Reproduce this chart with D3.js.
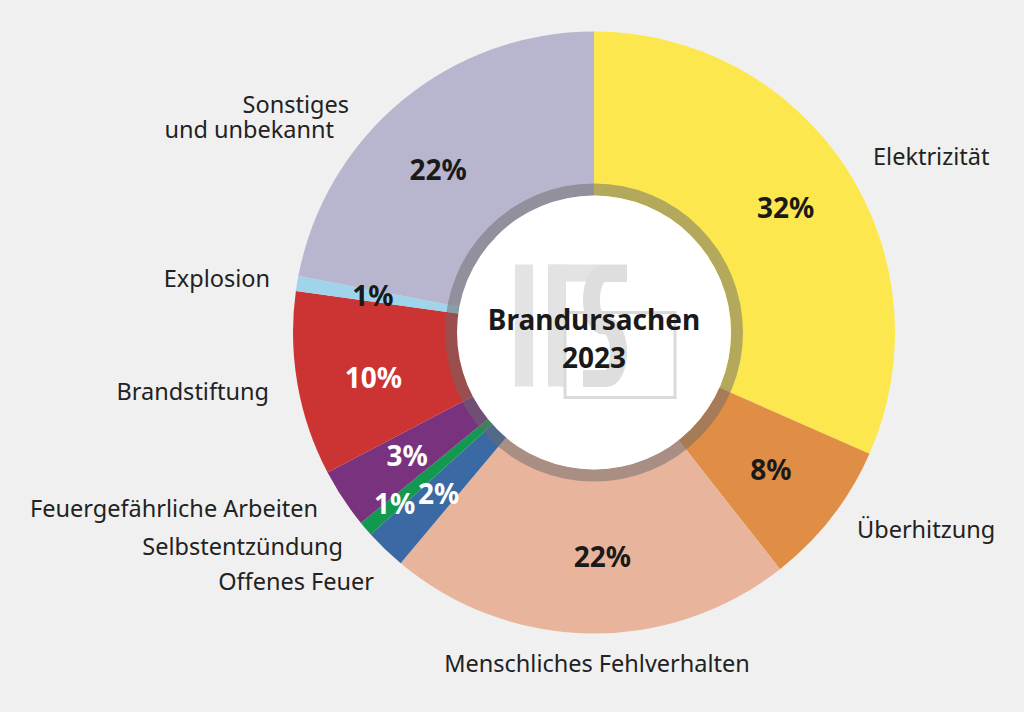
<!DOCTYPE html>
<html>
<head>
<meta charset="utf-8">
<script src="https://cdn.jsdelivr.net/npm/d3@7"></script>
<style>
  html, body { margin: 0; padding: 0; background: #f0f0f0; }
  svg { display: block; }
</style>
</head>
<body>
<svg id="chart" width="1024" height="712"></svg>
<script>
// ---- data ----
const categories = [
  "Elektrizität", "Überhitzung", "Menschliches Fehlverhalten", "Offenes Feuer",
  "Selbstentzündung", "Feuergefährliche Arbeiten", "Brandstiftung", "Explosion",
  "Sonstiges und unbekannt"
];
const values = [31.6, 7.8, 21.7, 2.2, 0.8, 3.2, 9.9, 0.8, 22.0];
const valueLabels = ["32%", "8%", "22%", "2%", "1%", "3%", "10%", "1%", "22%"];
const colors = ["#fde74e", "#e08e45", "#e8b59c", "#3b69a4", "#12994f", "#79327e", "#cb3433", "#9fd4eb", "#b8b6cf"];
const titleLines = ["Brandursachen", "2023"];

// ---- layout ----
const W = 1024, H = 712;
const cx = 594, cy = 332.5, R = 301;
const ringOuter = 149, ringInner = 137;
const pctR = 224, pctRSmall = 263;
const whiteText = new Set([3, 4, 5, 6]);
// small manual nudges for percentage labels [dx, dy]
const pctNudge = { 0: [4, -2], 2: [12, 0], 6: [0, 7], 8: [-13, 10] };

const svg = d3.select("#chart");
svg.append("rect").attr("width", W).attr("height", H).attr("fill", "#f0f0f0");

const g = svg.append("g").attr("transform", `translate(${cx},${cy})`);

const pie = d3.pie().sort(null).value(d => d.value);
const data = categories.map((c, i) => ({ name: c, value: values[i], label: valueLabels[i], color: colors[i], i }));
const arcs = pie(data);

const arc = d3.arc().innerRadius(0).outerRadius(R);
g.selectAll("path.slice").data(arcs).join("path")
  .attr("class", "slice")
  .attr("d", arc)
  .attr("fill", d => d.data.color);

// translucent ring + white center
g.append("path")
  .attr("d", d3.arc().innerRadius(ringInner).outerRadius(ringOuter).startAngle(0).endAngle(2 * Math.PI)())
  .attr("fill", "rgb(105,105,105)").attr("fill-opacity", 0.5);
g.append("circle").attr("r", ringInner).attr("fill", "#ffffff");

// watermark logo (I, F, S and a square outline)
const wm = g.append("g").attr("fill", "#e3e3e3");
wm.append("rect").attr("x", -79).attr("y", -68).attr("width", 18).attr("height", 122);
wm.append("rect").attr("x", -46).attr("y", -68).attr("width", 18).attr("height", 122);
wm.append("rect").attr("x", -46).attr("y", -68).attr("width", 79).attr("height", 17);
wm.append("rect").attr("x", -29).attr("y", -20).attr("width", 110).attr("height", 85)
  .attr("fill", "none").attr("stroke", "#dadada").attr("stroke-width", 3);
// S drawn as a thick stroked path
const sx0 = -11, sTop = -59, sMid = -6.5, sBot = 46, sRx = 12;
wm.append("path")
  .attr("d", `M ${33} ${sTop} H ${sx0 + 20.5} ` +
             `A ${sRx} ${(sMid - sTop) / 2} 0 0 0 ${sx0 + 20.5} ${sMid} ` +
             `H ${sx0 + 23.5} ` +
             `A ${sRx} ${(sBot - sMid) / 2} 0 0 1 ${sx0 + 23.5} ${sBot} ` +
             `H ${sx0}`)
  .attr("fill", "none").attr("stroke", "#dedede").attr("stroke-width", 17);

// center title
g.append("text")
  .attr("text-anchor", "middle")
  .attr("font-family", "'Noto Sans', sans-serif").attr("font-weight", 700)
  .attr("font-size", 28).attr("fill", "#1a1a1a")
  .selectAll("tspan").data(titleLines).join("tspan")
  .attr("x", 0).attr("y", (d, i) => -3 + i * 38)
  .text(d => d);

// percentage labels
g.selectAll("text.pct").data(arcs).join("text")
  .attr("class", "pct")
  .attr("transform", d => {
    const a = (d.startAngle + d.endAngle) / 2;
    const r = d.data.i === 4 ? pctRSmall : pctR;
    const n = pctNudge[d.data.i] || [0, 0];
    return `translate(${r * Math.sin(a) + n[0]},${-r * Math.cos(a) + n[1]})`;
  })
  .attr("dy", "0.36em")
  .attr("text-anchor", "middle")
  .attr("font-family", "'Noto Sans', sans-serif").attr("font-weight", 700)
  .attr("font-size", 28)
  .attr("fill", d => whiteText.has(d.data.i) ? "#ffffff" : "#1a1a1a")
  .text(d => d.data.label);

// category labels (positions relative to pie centre)
const labelLayout = [
  { lines: ["Elektrizität"], dx: 279, dy: -168, anchor: "start" },
  { lines: ["Überhitzung"], dx: 263, dy: 205, anchor: "start" },
  { lines: ["Menschliches Fehlverhalten"], dx: 3, dy: 339, anchor: "middle" },
  { lines: ["Offenes Feuer"], dx: -220, dy: 257, anchor: "end" },
  { lines: ["Selbstentzündung"], dx: -251, dy: 222, anchor: "end" },
  { lines: ["Feuergefährliche Arbeiten"], dx: -276, dy: 184, anchor: "end" },
  { lines: ["Brandstiftung"], dx: -325, dy: 67, anchor: "end" },
  { lines: ["Explosion"], dx: -324, dy: -46, anchor: "end" },
  { lines: ["Sonstiges", "und unbekannt"], dx: -245, dy: -220, anchor: "end", lineDx: [0, -15] }
];
arcs.forEach((d, i) => {
  const L = labelLayout[i];
  const t = g.append("text")
    .attr("text-anchor", L.anchor)
    .attr("font-family", "'Noto Sans', sans-serif")
    .attr("font-size", 23.5).attr("fill", "#222222");
  L.lines.forEach((line, j) => {
    t.append("tspan")
      .attr("x", L.dx + (L.lineDx ? L.lineDx[j] : 0))
      .attr("y", L.dy + j * 25)
      .text(line);
  });
});
</script>
</body>
</html>
